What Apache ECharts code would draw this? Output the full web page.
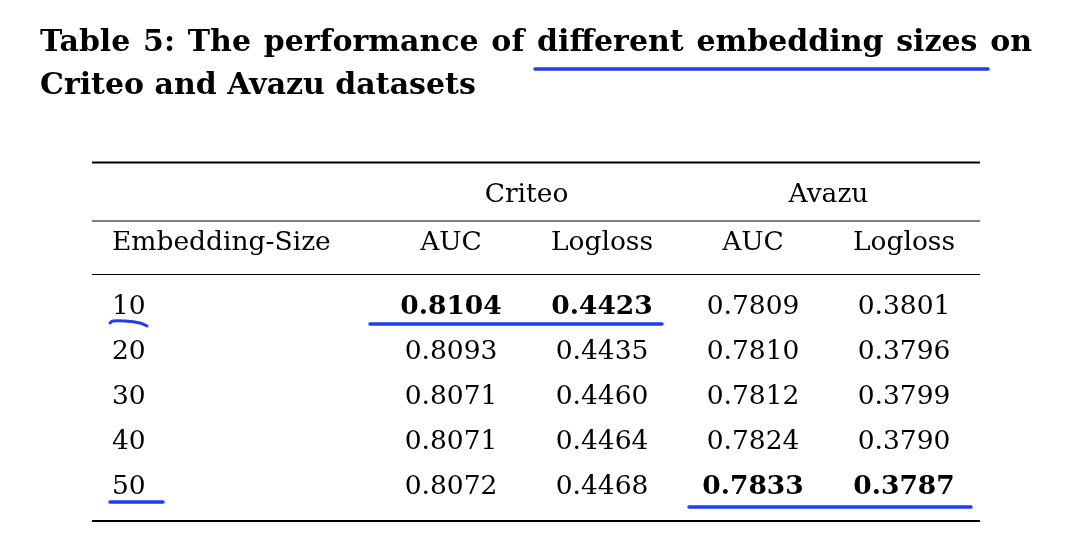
<!DOCTYPE html>
<html><head><meta charset="utf-8">
<script src="https://cdn.jsdelivr.net/npm/echarts@6/dist/echarts.min.js"></script>
<style>html,body{margin:0;background:#fff}#c{width:1080px;height:552px}</style>
</head><body><div id="c"></div>
<script>
const titleLines = ['Table 5: The performance of different embedding sizes on', 'Criteo and Avazu datasets'];
const datasets = ['Criteo', 'Avazu'];
const columns = ['Criteo|AUC', 'Criteo|Logloss', 'Avazu|AUC', 'Avazu|Logloss'];
const rowHeader = 'Embedding-Size';
const embeddingSizes = ['10', '20', '30', '40', '50'];
const criteoAUC = [0.8104, 0.8093, 0.8071, 0.8071, 0.8072];
const criteoLogloss = [0.4423, 0.4435, 0.4460, 0.4464, 0.4468];
const avazuAUC = [0.7809, 0.7810, 0.7812, 0.7824, 0.7833];
const avazuLogloss = [0.3801, 0.3796, 0.3799, 0.3790, 0.3787];

const FONT = '"DejaVu Serif", "Liberation Serif", serif';
const BODY = 26.5;
const BLUE = '#1d3ef2';
const colValues = [criteoAUC, criteoLogloss, avazuAUC, avazuLogloss];

// build cells; best value (max AUC / min Logloss) is bold
const cells = [];
colValues.forEach((vals, c) => {
  const isLoss = columns[c].endsWith('Logloss');
  const best = isLoss ? Math.min(...vals) : Math.max(...vals);
  vals.forEach((v, r) => {
    cells.push({
      value: [c, r, v],
      label: { fontWeight: v === best ? 'bold' : 'normal' }
    });
  });
});

// title, justified first line
const ctx = document.createElement('canvas').getContext('2d');
const TFS = 30;
ctx.font = 'bold ' + TFS + 'px ' + FONT;
const titleEls = [];
(function () {
  const words = titleLines[0].split(' ');
  const w = words.map(s => ctx.measureText(s).width);
  const total = w.reduce((a, b) => a + b, 0);
  const x0 = 40, x1 = 1032;
  const gap = (x1 - x0 - total) / (words.length - 1);
  let x = x0;
  words.forEach((s, i) => {
    titleEls.push({ type: 'text', x: x, y: 43, style: { text: s, fontFamily: FONT, fontSize: TFS, fontWeight: 'bold', fill: '#000', align: 'left', verticalAlign: 'middle' } });
    x += w[i] + gap;
  });
  titleEls.push({ type: 'text', x: x0, y: 86, style: { text: titleLines[1], fontFamily: FONT, fontSize: TFS, fontWeight: 'bold', fill: '#000', align: 'left', verticalAlign: 'middle' } });
})();

function rule(y, lw) {
  return { type: 'line', shape: { x1: 92, y1: y, x2: 980, y2: y }, style: { stroke: '#000', lineWidth: lw } };
}
function blue(points, lw) {
  return { type: 'polyline', shape: { points: points, smooth: 0.4 }, style: { stroke: BLUE, lineWidth: lw || 3.5, lineCap: 'round', fill: null } };
}

const chart = echarts.init(document.getElementById('c'));
chart.setOption({
  animation: false,
  backgroundColor: '#fff',
  grid: { left: 375.5, right: 100.5, top: 284.4, height: 225.5, outerBoundsMode: 'none' },
  xAxis: [
    {
      type: 'category', position: 'top', data: columns,
      axisLine: { show: false }, axisTick: { show: false }, splitLine: { show: false },
      axisLabel: { formatter: v => v.split('|')[1], color: '#000', fontFamily: FONT, fontSize: BODY, margin: 28, interval: 0 }
    },
    {
      type: 'category', position: 'top', data: datasets, offset: 48,
      axisLine: { show: false }, axisTick: { show: false }, splitLine: { show: false },
      axisLabel: { color: '#000', fontFamily: FONT, fontSize: BODY, margin: 28, interval: 0 }
    }
  ],
  yAxis: {
    type: 'category', inverse: true, data: embeddingSizes,
    name: rowHeader, nameLocation: 'start', nameGap: 28,
    nameTextStyle: { color: '#000', fontFamily: FONT, fontSize: BODY, align: 'left', verticalAlign: 'bottom', padding: [0, 0, 0, -263.5] },
    axisLine: { show: false }, axisTick: { show: false }, splitLine: { show: false },
    axisLabel: { color: '#000', fontFamily: FONT, fontSize: BODY, align: 'left', margin: 263.5, interval: 0 }
  },
  series: [{
    type: 'scatter',
    xAxisIndex: 0,
    symbolSize: 1,
    itemStyle: { color: '#ffffff', opacity: 1 },
    emphasis: { disabled: true },
    data: cells,
    label: {
      show: true, position: 'inside', color: '#000000', opacity: 1, textBorderWidth: 0,
      fontFamily: FONT, fontSize: BODY,
      formatter: p => p.value[2].toFixed(4)
    }
  }],
  graphic: [
    ...titleEls,
    rule(162.5, 2), rule(221, 1.2), rule(274.5, 1.2), rule(521, 2),
    blue([[535, 69], [988, 69]]),
    blue([[110, 323], [113, 321], [125, 321], [140, 323], [147, 326]], 3),
    blue([[370, 324], [662, 324]]),
    blue([[110, 502], [163, 502]]),
    blue([[689, 507], [971, 507]])
  ]
});
</script>
</body></html>
